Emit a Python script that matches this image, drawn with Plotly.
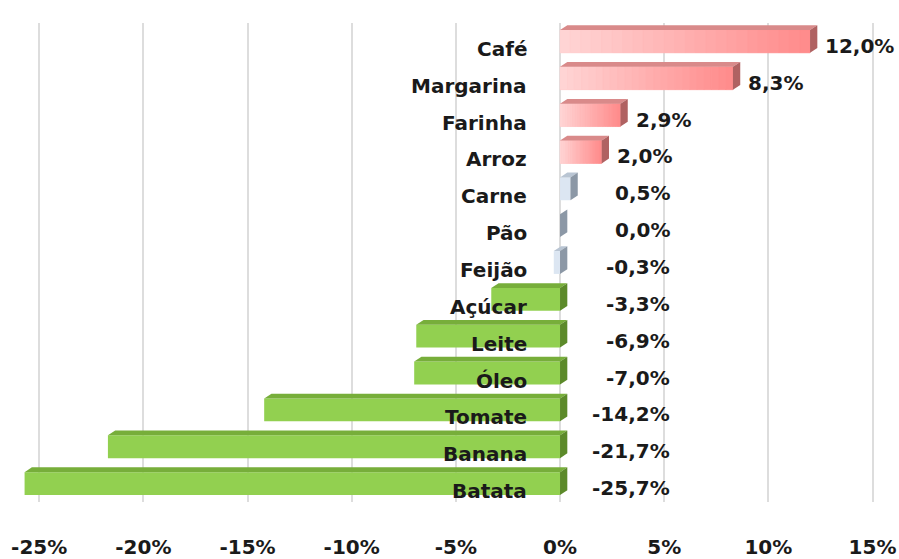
import plotly.graph_objects as go

categories = ["Café", "Margarina", "Farinha", "Arroz", "Carne", "Pão", "Feijão",
              "Açúcar", "Leite", "Óleo", "Tomate", "Banana", "Batata"]
values = [12.0, 8.3, 2.9, 2.0, 0.5, 0.0, -0.3, -3.3, -6.9, -7.0, -14.2, -21.7, -25.7]
tick_vals = [-25, -20, -15, -10, -5, 0, 5, 10, 15]
tick_text = ["-25%", "-20%", "-15%", "-10%", "-5%", "0%", "5%", "10%", "15%"]

FONT = "DejaVu Sans, Verdana, Arial"
H = 0.31      # half bar height (category units)
DX = 0.35     # depth in x (data units)
DY = 0.13     # depth in y (category units)


def palette(v):
    if v >= 1:
        return "#FFB0B0", "#D98A8A", "#B06262"
    if v > -1:
        return "#DCE6F2", "#B9C5D3", "#8C98A6"
    return "#92D050", "#77AE3A", "#5C8A2A"


def mix(c1, c2, t):
    a = [int(c1[k:k + 2], 16) for k in (1, 3, 5)]
    b = [int(c2[k:k + 2], 16) for k in (1, 3, 5)]
    return "#" + "".join(f"{round(p + (q - p) * t):02X}" for p, q in zip(a, b))


idx = list(range(len(categories)))
fronts = [palette(v)[0] for v in values]

fig = go.Figure()
fig.add_trace(go.Bar(
    x=values, y=idx, orientation="h", width=2 * H,
    marker=dict(color=fronts, line=dict(width=0)),
    hoverinfo="skip",
))

shapes = []
for i, v in zip(idx, values):
    front, top, side = palette(v)
    x0, x1 = min(0, v), max(0, v)
    yt, yb = i - H, i + H
    # gradient on the front face of the red bars
    if v >= 1:
        n = 24
        for k in range(n):
            a = x0 + (x1 - x0) * k / n
            b = x0 + (x1 - x0) * (k + 1) / n
            col = mix("#FFD6D6", "#FF8A8A", (k + 0.5) / n)
            shapes.append(dict(type="rect", xref="x", yref="y", x0=a, x1=b, y0=yt, y1=yb,
                               fillcolor=col, line=dict(width=0.6, color=col), layer="above"))
    # top face
    if x1 > x0:
        shapes.append(dict(type="path", xref="x", yref="y",
                           path=f"M {x0} {yt} L {x1} {yt} L {x1+DX} {yt-DY} L {x0+DX} {yt-DY} Z",
                           fillcolor=top, line=dict(width=0), layer="above"))
    # side face
    shapes.append(dict(type="path", xref="x", yref="y",
                       path=f"M {x1} {yt} L {x1+DX} {yt-DY} L {x1+DX} {yb-DY} L {x1} {yb} Z",
                       fillcolor=side, line=dict(width=0), layer="above"))

annotations = []
for i, (c, v) in enumerate(zip(categories, values)):
    annotations.append(dict(x=0, y=i, xref="x", yref="y", text=c, showarrow=False,
                            xanchor="right", yanchor="middle", xshift=-31, yshift=-7.5,
                            font=dict(family=FONT, size=20, color="#1a1a1a", weight="bold")))
    label = f"{v:.1f}%".replace(".", ",")
    if v >= 1:
        annotations.append(dict(x=v + DX, y=i, xref="x", yref="y", text=label, showarrow=False,
                                xanchor="left", yanchor="middle", xshift=6, yshift=-4.5,
                                font=dict(family=FONT, size=20, color="#1a1a1a", weight="bold")))
    else:
        annotations.append(dict(x=5.3, y=i, xref="x", yref="y", text=label, showarrow=False,
                                xanchor="right", yanchor="middle", xshift=2, yshift=-4.5,
                                font=dict(family=FONT, size=20, color="#1a1a1a", weight="bold")))

fig.update_layout(
    width=899, height=559,
    margin=dict(l=0, r=0, t=23, b=50),
    paper_bgcolor="white", plot_bgcolor="white",
    showlegend=False,
    shapes=shapes, annotations=annotations,
    xaxis=dict(range=[-26.88, 16.27], tickvals=tick_vals, ticktext=tick_text,
               showgrid=True, gridcolor="#DDDDDD", gridwidth=1.5, zeroline=False,
               showline=False, ticks="", ticklabelstandoff=31,
               tickfont=dict(family=FONT, size=20, color="#1a1a1a", weight="bold")),
    yaxis=dict(range=[12.5, -0.5], showticklabels=False, showgrid=False,
               zeroline=False, showline=False),
)

fig.write_html("out.html")
